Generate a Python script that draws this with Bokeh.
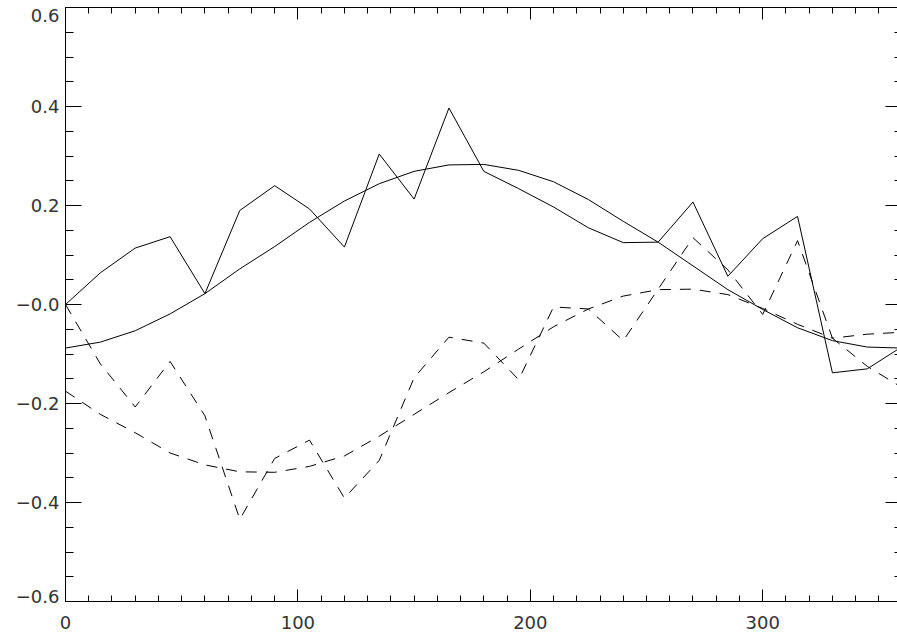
from bokeh.plotting import figure
from bokeh.models import LinearAxis, FixedTicker, Range1d
from bokeh.embed import file_html
from bokeh.resources import INLINE

# ---- data ----
angle = [0, 15, 30, 45, 60, 75, 90, 105, 120, 135, 150, 165, 180,
         195, 210, 225, 240, 255, 270, 285, 300, 315, 330, 345, 360]

solid_raw = [0.000, 0.064, 0.114, 0.137, 0.022, 0.190, 0.240, 0.193, 0.116,
             0.304, 0.213, 0.397, 0.269, 0.234, 0.197, 0.155, 0.125, 0.126,
             0.207, 0.057, 0.133, 0.178, -0.138, -0.130, -0.085]

solid_fit = [-0.088, -0.076, -0.053, -0.019, 0.022, 0.072, 0.117, 0.166, 0.209,
             0.244, 0.269, 0.282, 0.283, 0.271, 0.248, 0.212, 0.168, 0.126,
             0.078, 0.030, -0.010, -0.047, -0.073, -0.086, -0.088]

dashed_raw = [0.000, -0.120, -0.207, -0.115, -0.225, -0.434, -0.311, -0.274, -0.391,
              -0.315, -0.148, -0.066, -0.078, -0.152, -0.005, -0.009, -0.073, 0.031,
              0.135, 0.070, -0.020, 0.129, -0.068, -0.060, -0.056]

dashed_fit = [-0.175, -0.222, -0.259, -0.300, -0.324, -0.338, -0.339, -0.327, -0.306,
              -0.266, -0.222, -0.178, -0.136, -0.090, -0.045, -0.009, 0.017, 0.030,
              0.031, 0.020, -0.008, -0.040, -0.068, -0.125, -0.168]

x_major = [0, 100, 200, 300]
x_minor = list(range(0, 361, 10))
y_major = [-0.6, -0.4, -0.2, 0.0, 0.2, 0.4, 0.6]
y_minor = [round(-0.6 + 0.05 * i, 2) for i in range(25)]
y_labels = ["\u22120.6", "\u22120.4", "\u22120.2", "\u22120.0", "0.2", "0.4", "0.6"]

# ---- layout ----
W, H = 897, 636
LEFT, TOP, BOTTOM = 65, 7, 35
frame_h = H - TOP - BOTTOM
x_end = 358
y_lo, y_hi = -0.6, 0.6
vpp = (y_hi - y_lo) / frame_h

p = figure(width=W, height=H, output_backend="svg", toolbar_location=None,
           x_axis_location=None, y_axis_location=None,
           x_range=Range1d(0, x_end), y_range=Range1d(y_lo, y_hi),
           min_border_left=LEFT, min_border_right=0,
           min_border_top=TOP, min_border_bottom=BOTTOM)
p.outline_line_color = None
p.xgrid.visible = False
p.ygrid.visible = False
p.background_fill_color = "white"
p.border_fill_color = "white"

FONT = "DejaVu Sans"
FSIZE = "18px"
TCOL = "#333333"


def tick_axis(axis, major_len, minor_len, show_line=True):
    axis.major_tick_in = major_len
    axis.major_tick_out = 0
    axis.minor_tick_in = minor_len
    axis.minor_tick_out = 0
    axis.major_tick_line_color = "black"
    axis.minor_tick_line_color = "black"
    axis.axis_line_color = "black" if show_line else None
    return axis


def no_labels(axis):
    axis.major_label_text_color = None
    axis.major_label_text_alpha = 0
    axis.major_label_text_font_size = "1px"
    axis.major_label_standoff = 0
    return axis


# bottom axis with labels
xb = LinearAxis(ticker=FixedTicker(ticks=x_major, minor_ticks=x_minor))
tick_axis(xb, 12, 6)
xb.major_label_text_font = FONT
xb.major_label_text_font_size = FSIZE
xb.major_label_text_color = TCOL
xb.major_label_standoff = 14
p.add_layout(xb, "below")

# top axis (ticks only)
xt = LinearAxis(ticker=FixedTicker(ticks=x_major, minor_ticks=x_minor))
tick_axis(xt, 12, 6)
no_labels(xt)
p.add_layout(xt, "above")

# left axis: ticks only (closest to frame)
yl = LinearAxis(ticker=FixedTicker(ticks=y_major, minor_ticks=y_minor))
tick_axis(yl, 16, 8)
no_labels(yl)
p.add_layout(yl, "left")

# left axis: labels only; the end labels are kept inside the box
label_pos = []
for t in y_major:
    if t >= y_hi - 1e-9:
        label_pos.append(t - 8 * vpp)
    elif t <= y_lo + 1e-9:
        label_pos.append(t + 5 * vpp)
    else:
        label_pos.append(t)
ylab = LinearAxis(ticker=FixedTicker(ticks=label_pos, minor_ticks=[]))
ylab.major_tick_in = 0
ylab.major_tick_out = 0
ylab.minor_tick_in = 0
ylab.minor_tick_out = 0
ylab.axis_line_color = None
ylab.major_tick_line_color = None
ylab.minor_tick_line_color = None
ylab.major_label_overrides = {pos: lab for pos, lab in zip(label_pos, y_labels)}
ylab.major_label_text_font = FONT
ylab.major_label_text_font_size = FSIZE
ylab.major_label_text_color = TCOL
ylab.major_label_standoff = 6
p.add_layout(ylab, "left")

# right axis (ticks only; the axis itself sits just past the visible edge)
yr = LinearAxis(ticker=FixedTicker(ticks=y_major, minor_ticks=y_minor))
tick_axis(yr, 12, 3, show_line=False)
no_labels(yr)
p.add_layout(yr, "right")

# ---- lines ----
p.line(angle, solid_raw, line_color="black", line_width=1)
p.line(angle, solid_fit, line_color="black", line_width=1)
p.line(angle, dashed_raw, line_color="black", line_width=1, line_dash="11 9")
p.line(angle, dashed_fit, line_color="black", line_width=1, line_dash="11 9")

open("out.html", "w").write(file_html(p, INLINE))
